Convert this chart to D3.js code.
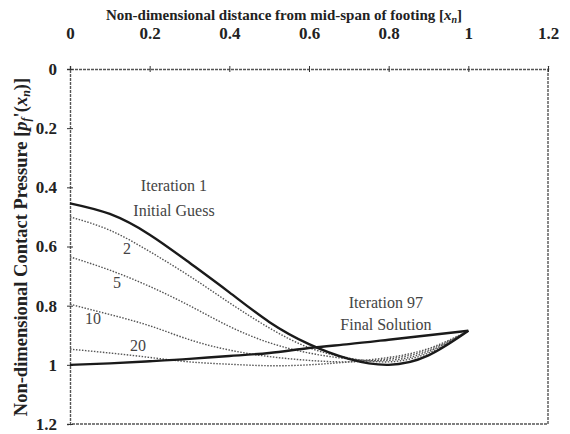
<!DOCTYPE html>
<html>
<head>
<meta charset="utf-8">
<script src="https://cdn.jsdelivr.net/npm/d3@7"></script>
<style>
body { margin: 0; background: #fff; }
</style>
</head>
<body>
<div id="canvas"></div>
<script>
// x positions along the footing (non-dimensional)
var xs = [0, 0.1, 0.2, 0.3, 0.4, 0.5, 0.6, 0.7, 0.8, 0.9, 1.0];

// contact pressure for each iteration
var iter1  = [0.454, 0.490, 0.560, 0.655, 0.755, 0.855, 0.930, 0.980, 1.000, 0.968, 0.885];
var iter2  = [0.500, 0.545, 0.617, 0.700, 0.790, 0.875, 0.942, 0.977, 0.990, 0.960, 0.885];
var iter5  = [0.635, 0.680, 0.735, 0.800, 0.870, 0.925, 0.960, 0.980, 0.985, 0.955, 0.885];
var iter10 = [0.795, 0.830, 0.868, 0.915, 0.950, 0.972, 0.985, 0.990, 0.980, 0.950, 0.885];
var iter20 = [0.947, 0.960, 0.975, 0.990, 0.998, 1.003, 1.000, 0.990, 0.975, 0.945, 0.885];
var iter97 = [1.000, 0.995, 0.988, 0.980, 0.970, 0.960, 0.943, 0.930, 0.915, 0.900, 0.885];

var xTicks = [0, 0.2, 0.4, 0.6, 0.8, 1, 1.2];
var yTicks = [0, 0.2, 0.4, 0.6, 0.8, 1, 1.2];

var serif = "'Liberation Serif', 'DejaVu Serif', serif";

var svg = d3.select("#canvas")
	.append("svg")
	.attr("width", 570)
	.attr("height", 434)
	.style("font-family", serif);

var x = d3.scaleLinear().domain([0, 1.2]).range([70, 548]);
var y = d3.scaleLinear().domain([0, 1.2]).range([69, 424]);

var frameColor = "#555";

// plot frame (right and bottom sides)
svg.append("path")
	.attr("d", "M" + x(1.2) + "," + y(0) + "V" + y(1.2) + "H" + x(0))
	.attr("fill", "none")
	.attr("stroke", frameColor)
	.attr("stroke-width", 1.4)
	.attr("stroke-dasharray", "3,1");

// top axis
var topAxis = svg.append("g")
	.attr("transform", "translate(0," + y(0) + ")")
	.call(d3.axisTop(x).tickValues(xTicks).tickSize(3).tickFormat(d3.format("")));
topAxis.select(".domain")
	.attr("stroke", frameColor)
	.attr("stroke-width", 1.4)
	.attr("stroke-dasharray", "3,1");
topAxis.selectAll(".tick line").attr("y1", 3).attr("y2", -3).attr("stroke", "#333");
topAxis.selectAll(".tick text")
	.attr("y", -30)
	.attr("dy", null);

// left axis
var leftAxis = svg.append("g")
	.attr("transform", "translate(" + x(0) + ",0)")
	.call(d3.axisLeft(y).tickValues(yTicks).tickSize(3).tickFormat(d3.format("")));
leftAxis.select(".domain")
	.attr("stroke", frameColor)
	.attr("stroke-width", 1.4)
	.attr("stroke-dasharray", "3,1");
leftAxis.selectAll(".tick line").attr("x1", 3).attr("x2", -3).attr("stroke", "#333");
leftAxis.selectAll(".tick text").attr("x", -13);

svg.selectAll("g")
	.attr("font-family", serif)
	.attr("font-size", 17)
	.attr("font-weight", "bold");
svg.selectAll(".tick text").attr("fill", "#222");

// axis titles
var xTitle = svg.append("text")
	.attr("x", 284)
	.attr("y", 20)
	.attr("text-anchor", "middle")
	.attr("fill", "#222")
	.attr("font-family", serif)
	.attr("font-size", 15)
	.attr("font-weight", "bold");
xTitle.append("tspan").text("Non-dimensional distance from mid-span of footing [");
xTitle.append("tspan").attr("font-style", "italic").text("x");
xTitle.append("tspan").attr("dy", 3).attr("font-size", 10).attr("font-style", "italic").text("n");
xTitle.append("tspan").attr("dy", -3).text("]");

var yTitle = svg.append("text")
	.attr("transform", "translate(27,247) rotate(-90)")
	.attr("text-anchor", "middle")
	.attr("fill", "#222")
	.attr("font-family", serif)
	.attr("font-size", 18.5)
	.attr("font-weight", "bold");
yTitle.append("tspan").text("Non-dimensional Contact Pressure [");
yTitle.append("tspan").attr("font-style", "italic").text("p");
yTitle.append("tspan").attr("dy", 3).attr("font-size", 12).attr("font-style", "italic").text("f");
yTitle.append("tspan").attr("dy", -3).text("'(");
yTitle.append("tspan").attr("font-style", "italic").text("x");
yTitle.append("tspan").attr("dy", 3).attr("font-size", 12).attr("font-style", "italic").text("n");
yTitle.append("tspan").attr("dy", -3).text(")]");

// curves
var line = d3.line()
	.x(function(d, i) { return x(xs[i]); })
	.y(function(d) { return y(d); })
	.curve(d3.curveNatural);

var dotted = [iter2, iter5, iter10, iter20];
svg.selectAll("path.iter")
	.data(dotted)
	.enter()
	.append("path")
	.attr("class", "iter")
	.attr("d", line)
	.attr("fill", "none")
	.attr("stroke", "#555")
	.attr("stroke-width", 1.4)
	.attr("stroke-dasharray", "1.5,1.5");

svg.selectAll("path.solid")
	.data([iter1, iter97])
	.enter()
	.append("path")
	.attr("class", "solid")
	.attr("d", line)
	.attr("fill", "none")
	.attr("stroke", "#1a1a1a")
	.attr("stroke-width", 2.4);

// annotations
var notes = [
	["Iteration 1", 0.261, 0.412],
	["Initial Guess", 0.261, 0.497],
	["2", 0.143, 0.625],
	["5", 0.118, 0.740],
	["10", 0.058, 0.862],
	["20", 0.171, 0.953],
	["Iteration 97", 0.793, 0.808],
	["Final Solution", 0.793, 0.882]
];
svg.selectAll("text.note")
	.data(notes)
	.enter()
	.append("text")
	.attr("class", "note")
	.attr("x", function(d) { return x(d[1]); })
	.attr("y", function(d) { return y(d[2]); })
	.attr("text-anchor", "middle")
	.attr("fill", "#444")
	.attr("font-family", serif)
	.attr("font-size", 16)
	.text(function(d) { return d[0]; });
</script>
</body>
</html>
